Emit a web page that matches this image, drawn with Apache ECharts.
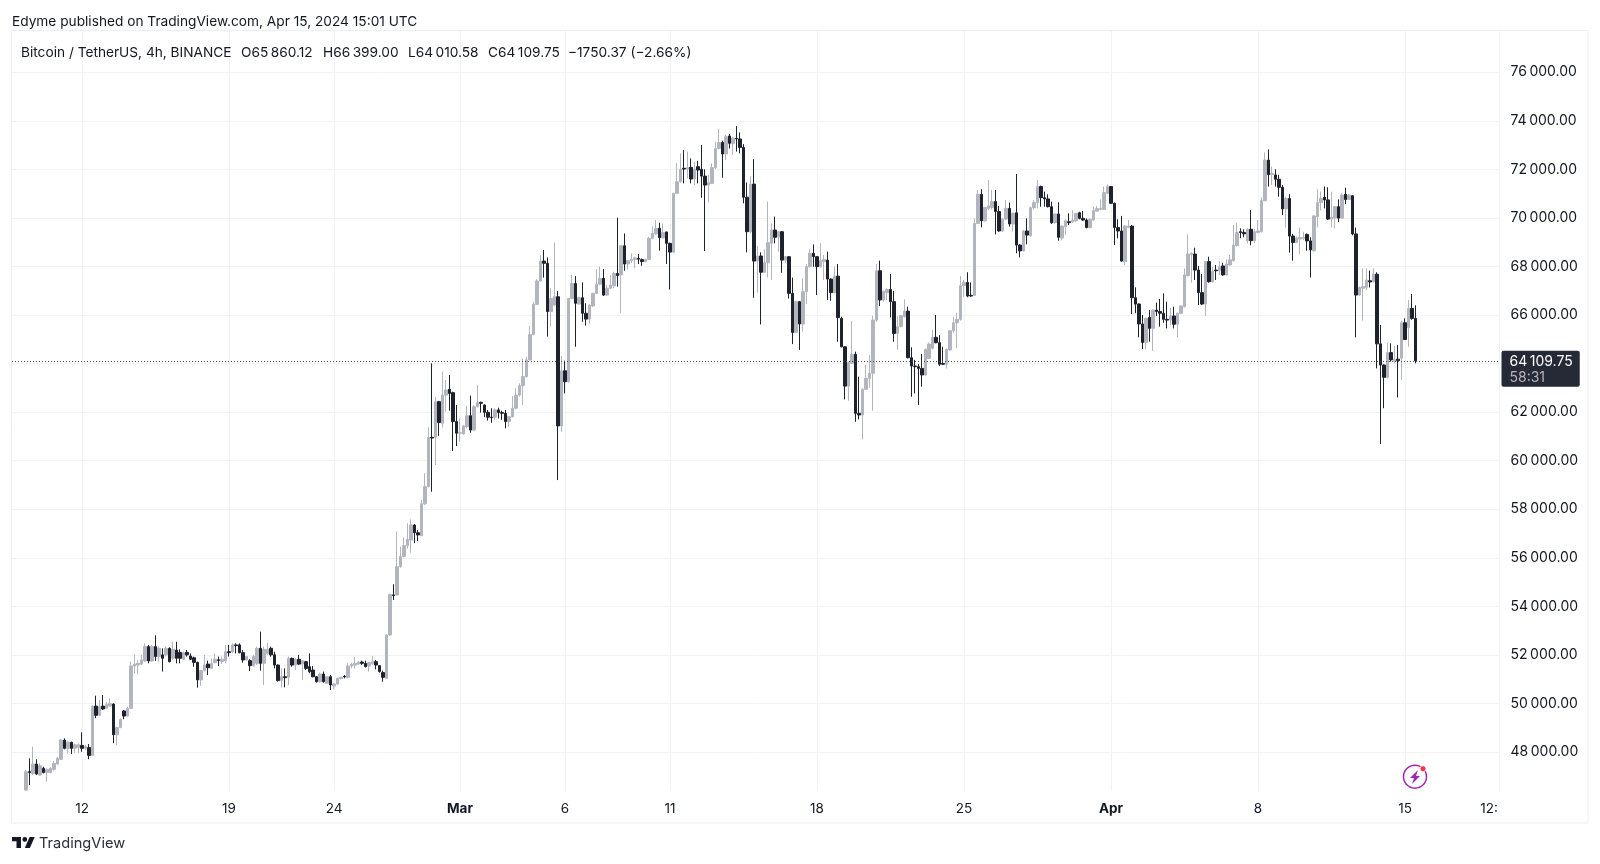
<!DOCTYPE html>
<html><head><meta charset="utf-8">
<style>html,body{margin:0;padding:0;background:#fff}#c{width:1600px;height:864px}</style>
<script src="https://cdn.jsdelivr.net/npm/echarts@6/dist/echarts.min.js"></script>
</head><body><div id="c"></div>
<script>
const opens=[
46430,47190,47120,47505,47050,47330,47150,47150,47285,47505,
47700,48490,48150,48400,48150,48190,48270,48150,48180,47860,
49890,49510,49890,49800,49890,49975,48710,49010,49690,49480,
49800,51540,51580,51620,51750,52340,51750,52340,51930,52000,
52000,52270,51860,52200,52100,51820,52100,51950,51880,51690,
50970,51350,51620,51445,51680,51800,51720,51750,52130,52130,
52410,52410,52090,51790,51760,51555,51650,52270,51650,52060,
52270,52000,51580,50940,51100,51075,51860,51580,51820,51620,
51720,51515,51375,51100,50895,51210,50830,51100,50720,50800,
51020,51115,51075,51540,51580,51620,51705,51650,51540,51650,
51720,51555,51270,51035,52820,54470,54470,55630,56050,56500,
56730,57350,57030,56910,58220,58930,60960,60960,62430,61540,
62700,62940,62800,61610,61130,61100,61400,61850,61260,62220,
62400,62290,61990,61790,61790,62090,61980,61950,61610,61810,
62160,62700,63090,63460,64150,65200,66440,67400,68220,68130,
66140,66410,66750,61430,63700,63250,66680,67300,66450,66710,
66070,65830,66370,66890,67270,67510,66820,67100,67200,67710,
67650,68850,68100,68240,68290,68330,68280,68200,68290,69160,
69340,69570,69180,69420,68950,68590,71010,71490,72040,72010,
72080,71600,72110,72000,71720,71350,71420,72070,72860,73100,
72630,73370,73070,73280,73250,72900,70850,69430,71390,68220,
68430,67760,68150,68950,69500,69220,69430,68260,68400,66890,
65280,66550,65630,66960,67990,68540,68400,67990,68200,68260,
67480,66920,67600,65860,64690,63070,64010,64380,61950,61880,
62940,63390,63600,65790,67820,66620,66920,67050,66550,65240,
65520,65930,66160,64240,63900,63870,63800,63530,64210,64630,
65080,64860,64000,63970,64560,65350,65680,65820,67210,67340,
66810,66810,69770,70970,69880,70390,70430,70670,70260,69460,
69950,70390,69750,70210,68880,68640,69460,69260,70420,70630,
71290,70830,70780,70460,69800,70160,69170,69640,69840,69830,
69880,70210,69980,69910,69600,69910,70280,70350,70350,71010,
71290,70600,69600,69460,68200,69610,69660,66710,66450,65630,
64870,65900,65450,66200,66140,66070,65820,65790,65960,65620,
66070,66340,67620,68480,68510,67850,66920,66450,68200,67370,
67850,67820,68020,67650,68060,68240,68860,69430,69400,69060,
69530,69060,69400,69430,70710,72380,71780,71770,71590,71260,
70370,70800,69250,68990,69130,69160,69320,69050,68650,70050,
70630,70850,70740,69950,69990,70460,69990,70970,70760,70910,
69340,66820,67100,67140,67410,67370,67680,64810,63940,63430,
64450,64110,64180,64220,65680,65480,66270,65860];
const highs=[
47260,47740,48220,47700,47530,47395,47325,47370,47630,47800,
48520,48560,48470,48425,48330,48360,48810,48290,48330,49920,
50320,50140,50350,50070,50210,50000,49040,49380,49730,49870,
51720,52020,51790,52000,52475,52410,52410,52805,52340,52270,
52340,52310,52540,52540,52230,52130,52200,52060,51930,51720,
51380,52000,51760,51860,52060,51930,51930,52410,52410,52475,
52475,52475,52200,51960,51820,52000,52340,52955,52340,52500,
52340,52130,51610,51445,51445,51930,51885,51860,52000,51790,
51750,52060,51540,51130,51270,51310,51130,51170,50830,51060,
51100,51170,51680,51680,51900,51730,51760,51760,51720,51950,
51790,51580,51350,52850,54520,54910,57080,56460,56830,57420,
57580,57380,57140,58380,59480,61370,64010,62640,62460,63670,
63320,63530,62840,62290,61740,61460,62250,62680,62290,63120,
62430,62320,62090,62160,62160,62180,62060,62090,61840,62660,
62980,63180,64210,64280,65550,66550,67470,68470,68680,68370,
67100,68990,66990,64310,64120,66710,67650,67600,66750,67340,
66480,66440,66920,67890,67990,67890,67230,67650,67780,70010,
68880,69360,68260,68540,68400,68510,68330,68320,69220,69640,
69910,69800,69770,69430,68980,71040,72250,72660,72790,72730,
72450,72310,72350,73000,72000,71770,72250,73140,73660,73180,
73410,73450,73340,73780,73520,73040,71460,71720,72420,68840,
68580,68700,70670,69770,70050,69460,69460,68430,68430,67540,
66580,66570,67510,68100,68700,68910,68430,68950,68470,68610,
67510,67990,68100,65930,64720,64080,65750,64490,63460,62980,
63940,64350,65970,68100,68240,67030,67100,67690,66990,65960,
66000,66640,66340,64670,64150,63980,64390,64620,64860,65380,
66000,65170,64690,64620,65380,65930,66090,67600,67440,67760,
67340,69980,71150,71180,70460,71560,71150,71150,70490,69980,
70740,70630,70220,71810,68910,69500,69980,70460,70740,71560,
71330,71080,70970,70670,70190,70640,69690,69940,70190,70320,
70210,70250,70280,69980,69980,70460,70490,70760,71290,71380,
71310,70630,69940,70080,69710,69910,69710,67140,66480,66000,
65900,66200,66230,66510,66660,66890,66550,66300,66340,66100,
66410,67920,69320,68570,68770,68020,67690,68220,68400,67990,
68060,68220,68150,68290,68470,69710,69780,69570,69530,69570,
70320,69530,69910,70850,72690,72820,72110,72000,71770,71350,
70870,70980,69340,69220,69600,69430,69360,69200,70120,71180,
71080,71290,71260,71080,70490,70760,71010,71240,70970,70940,
69600,67170,67920,67920,67830,67920,67760,65590,63970,64870,
64830,64720,64760,65760,65860,66620,66860,66400];
const lows=[
46400,46640,47050,47050,47020,47120,46775,47120,47230,47480,
47670,48110,47940,47920,47970,47970,48010,48080,47700,47830,
49390,49480,49730,49760,49865,48360,48290,48980,49350,49450,
49790,51240,51210,51580,51720,51650,51720,51750,51720,51310,
51930,51690,51790,51650,51650,51790,51930,51790,51510,50650,
50720,51310,51170,51440,51650,51540,51620,51650,51930,52060,
52060,52060,51680,51760,51335,51515,51580,51350,50760,52000,
51930,51445,50900,50660,50660,50760,51515,51375,51580,50965,
51375,51240,51075,50860,50855,50855,50800,50550,50580,50770,
50990,51035,51035,51445,51445,51590,51580,51485,51310,51580,
51405,51270,50895,51000,52790,54260,54440,55590,56020,56390,
56210,56600,56690,56910,58170,58900,58720,59820,61020,61370,
62020,62060,60400,60600,60780,61070,61330,61150,61230,62200,
61980,61790,61650,61560,61680,61740,61680,61330,61400,61780,
62110,62640,62290,63420,64120,65170,66410,67370,67540,65110,
65520,66380,59200,61190,62770,63220,66650,64690,66440,65720,
65560,65650,66340,66860,67230,66780,66790,67070,67100,67170,
66090,67820,67880,68130,67920,68100,68030,68170,68260,69110,
69290,68650,69150,68100,67050,68560,70980,71460,71420,71630,
71420,71350,71420,70830,68630,70640,71390,72010,72820,71650,
72380,72860,72590,72730,72660,70600,68580,69360,66710,66920,
65610,67740,67540,67440,68950,68610,67740,68130,66680,64800,
65250,64560,65310,66450,67960,67990,66820,67960,67440,66620,
66590,66890,64900,64670,62520,62470,63980,61600,61700,60880,
62910,63000,62060,65720,66370,66550,66620,65900,64900,64560,
65490,65900,64210,62630,62770,62290,63050,63500,64180,64580,
64830,63900,63960,63800,64530,65270,64630,65770,66750,66730,
66750,66780,69750,69610,69850,70320,70350,69320,69430,69430,
69910,69640,69430,68540,68370,68610,68910,69240,70350,70390,
70460,70460,70430,69750,69770,69060,69080,69290,69700,69800,
69840,69940,69880,69570,69570,69880,70250,70320,70320,70980,
70570,68880,69160,68200,68060,69570,66040,66070,65080,64600,
64590,64900,64520,65960,65520,65680,65450,65590,65450,65080,
66040,66310,67580,67330,67440,66410,66410,65970,67330,67330,
67440,67650,67620,67620,68030,68200,68810,69160,69200,68950,
68870,68950,69360,69400,70680,71290,71350,71290,70870,70120,
69600,68570,68240,68970,68500,69090,68650,67540,68610,69610,
70300,70390,69910,69600,69570,69830,69980,70570,70730,69280,
65080,66790,65770,67030,67130,67340,63800,60690,62160,63390,
64080,64010,62600,63320,64970,64690,65800,64010];
const closes=[
47190,47150,47505,47093,47436,47150,47285,47330,47530,47740,
48490,48150,48400,48150,48300,48300,48150,48220,47860,49890,
49510,49870,49770,49960,49990,48710,49010,49340,49480,49800,
51540,51620,51650,51790,52340,51750,52340,51930,52270,51860,
52270,51720,52230,51860,51860,52090,52000,51820,51690,50970,
51350,51580,51470,51650,51820,51770,51820,52130,52090,52410,
52380,52090,51790,51930,51555,51930,52270,51650,52230,52230,
52000,51580,50940,51100,51060,51860,51580,51820,51620,51760,
51445,51310,51100,50895,51210,50895,51100,50760,50800,51035,
51075,51090,51540,51610,51650,51705,51650,51515,51680,51720,
51580,51310,51075,52820,54490,54440,55630,56050,56500,56760,
57350,57030,56940,58220,58930,60960,60930,62430,61570,62700,
62910,62770,61610,61130,61150,61430,61850,61260,62220,62390,
62360,61990,61790,61770,62090,61980,61950,61610,61810,62160,
62700,63090,63460,64150,65200,66440,67400,68220,68130,66140,
66680,66750,61430,63700,63250,66680,67300,66480,66710,66070,
65830,66410,66890,67270,67510,66820,67100,67230,67710,67620,
68850,68100,68240,68290,68350,68300,68200,68290,69160,69360,
69570,69180,69390,68950,68590,71010,71490,72000,72010,72070,
71600,72010,71970,71720,71350,71450,72070,72860,73100,72630,
73340,73070,73280,73250,72900,70850,69430,71390,68220,68430,
67760,68150,68980,69500,69200,69430,68260,68400,66890,65280,
66550,65630,66960,67990,68540,68400,67990,68240,68290,67480,
66920,67600,65890,64690,63070,64050,64380,61950,61880,62940,
63390,63600,65790,67820,66620,66960,67050,66550,65240,65520,
65970,66160,64240,63900,63870,63800,63530,64580,64800,65080,
64860,63970,63970,64580,65350,65680,65820,67210,67340,66780,
66780,69770,70970,69880,70430,70490,70670,70260,69460,69950,
70390,69750,70190,68880,68640,69460,69290,70420,70630,71290,
70830,70780,70460,69800,70160,69200,69660,69880,69800,69910,
70190,69980,69910,69600,69940,70300,70390,70390,71040,71290,
70600,69600,69460,68220,69660,69660,66710,66450,65630,64870,
65860,65450,66200,66140,66070,65820,65790,65960,65620,66070,
66370,67650,68510,68540,67850,66920,66450,68200,67370,67790,
67820,67990,67650,68100,68270,68880,69400,69400,69340,69530,
69060,69430,69460,70710,72380,71780,71840,71590,71260,70370,
70800,69250,68990,69160,69190,69190,69050,68680,70080,70630,
70800,70740,69950,70020,70460,69990,70940,70760,70940,69340,
66820,67130,67170,67440,67360,67680,64810,63940,63430,64450,
64150,64170,64120,65680,64990,66270,65860,64110];
const priceTicks=[48000,50000,52000,54000,56000,58000,60000,62000,64000,66000,68000,70000,72000,74000,76000];
const timeTickDates=['2024-02-12 00','2024-02-19 00','2024-02-24 00','2024-03-01 00','2024-03-06 00','2024-03-11 00','2024-03-18 00','2024-03-25 00','2024-04-01 00','2024-04-08 00','2024-04-15 00'];
const timeTickLabels=['12','19','24','Mar','6','11','18','25','Apr','8','15'];
const futureTickDate='2024-04-19 00', futureTickLabel='12:';
const headerText='Edyme published on TradingView.com, Apr 15, 2024 15:01 UTC';
const symbolText='Bitcoin / TetherUS, 4h, BINANCE';
const countdownText='58:31';

const FONT='Inter, "Noto Sans", sans-serif';
const INK='#131722';
const GRID='#f1f2f5';
const H=4*3600e3, firstMs=Date.UTC(2024,1,9,8), leadBlank=4, totalSlots=426;
function slotName(i){const d=new Date(firstMs+(i-leadBlank)*H);return d.toISOString().slice(0,13).replace('T',' ');}
const categories=[];for(let i=0;i<totalSlots;i++)categories.push(slotName(i));
const candles=[];
for(let i=0;i<totalSlots;i++){
  const k=i-leadBlank;
  candles.push(k>=0&&k<opens.length?[opens[k],closes[k],lows[k],highs[k]]:['-','-','-','-']);
}
function money(v){const s=v.toFixed(2).split('.');return s[0].replace(/\B(?=(\d{3})+$)/g,'\u2009')+'.'+s[1];}
const lastOpen=65860.12,lastHigh=66399.00,lastLow=64010.58,lastClose=64109.75;
const change=lastClose-lastOpen;
function minus(s){return s.replace('-','\u2212');}
const hdr=(x,y,text,opts)=>({type:'text',silent:true,z:100,x,y,style:Object.assign({text,fill:INK,font:'13.7px '+FONT,textVerticalAlign:'middle'},opts||{})});
const chart=echarts.init(document.getElementById('c'),null,{renderer:'canvas'});
chart.setOption({
  animation:false,backgroundColor:'#ffffff',
  grid:{left:12,top:31,width:1487.5,height:760,containLabel:false},
  xAxis:{type:'category',data:categories,boundaryGap:false,
    axisLine:{show:false},axisTick:{show:false},
    splitLine:{show:true,lineStyle:{color:GRID,width:1},interval:(i,v)=>timeTickDates.includes(v)},
    axisLabel:{show:true,margin:11,color:INK,fontFamily:FONT,fontSize:13.5,
      interval:(i,v)=>timeTickDates.includes(v)||v===futureTickDate,
      formatter:v=>{
        if(v===futureTickDate)return futureTickLabel;
        const i=timeTickDates.indexOf(v);if(i<0)return '';
        const t=timeTickLabels[i];
        return /^[A-Z]/.test(t)?'{b|'+t+'}':t;
      },
      rich:{b:{fontWeight:700,fontFamily:FONT,fontSize:13.5,color:INK}}
    }},
  yAxis:{type:'value',position:'right',min:46393,max:77697,scale:true,
    axisLine:{show:true,onZero:false,lineStyle:{color:GRID,width:1}},
    axisTick:{show:false,customValues:priceTicks},
    splitLine:{show:true,lineStyle:{color:GRID,width:1}},
    axisLabel:{show:true,customValues:priceTicks,margin:11,color:INK,fontFamily:FONT,fontSize:14,formatter:v=>money(v)}},
  series:[{type:'candlestick',data:candles,barWidth:3,
    itemStyle:{color:'#b2b5be',color0:'#1e222d',borderColor:'#b2b5be',borderColor0:'#1e222d',borderWidth:1},
    markLine:{silent:true,symbol:'none',animation:false,
      lineStyle:{color:'#4a4c52',width:1,type:[1,2]},
      data:[{yAxis:lastClose}],
      label:{show:true,position:'end',distance:2,offset:[0,8],
        formatter:'{p|'+money(lastClose)+'}\n{t|'+countdownText+'}',
        backgroundColor:'#262a36',borderRadius:2,padding:[2,7,2,8],
        rich:{p:{color:'#ffffff',fontFamily:FONT,fontSize:14,lineHeight:17},t:{color:'#b2b5be',fontFamily:FONT,fontSize:14,lineHeight:15}}}
    }}],
  graphic:{elements:[
    {type:'rect',silent:true,z:-10,shape:{x:11.5,y:30.5,width:1576.5,height:792.5},style:{fill:'none',stroke:'#eceef3',lineWidth:1}},
    hdr(12,22,headerText),
    hdr(21,53,symbolText),
    hdr(241,53,'O'+money(lastOpen)),
    hdr(323,53,'H'+money(lastHigh)),
    hdr(408,53,'L'+money(lastLow)),
    hdr(488,53,'C'+money(lastClose)),
    hdr(568,53,minus(change.toFixed(2))+' ('+minus((change/lastOpen*100).toFixed(2))+'%)'),
    {type:'circle',silent:true,z:10,shape:{cx:1415,cy:776.7,r:11.5},style:{fill:'#ffffff',stroke:'#9c27b0',lineWidth:1.5}},
    {type:'polygon',silent:true,z:11,shape:{points:[[1418,770],[1410,778],[1414,778],[1412,784],[1420,776],[1416,776]]},style:{fill:'#9c27b0'}},
    {type:'circle',silent:true,z:12,shape:{cx:1423,cy:768.7,r:3},style:{fill:'#f23645',stroke:'#ffffff',lineWidth:0.8}},
    {type:'polygon',silent:true,shape:{points:[[12,837],[21,837],[21,848],[16.5,848],[16.5,841.3],[12,841.3]]},style:{fill:INK}},
    {type:'polygon',silent:true,shape:{points:[[29.6,837],[34.7,837],[29.9,848],[24.8,848]]},style:{fill:INK}},
    {type:'circle',silent:true,shape:{cx:24.8,cy:839.4,r:2.4},style:{fill:INK}},
    hdr(39,844,'TradingView',{font:'14.6px '+FONT,fill:'#2a2e39'})
  ]}
});
</script></body></html>
